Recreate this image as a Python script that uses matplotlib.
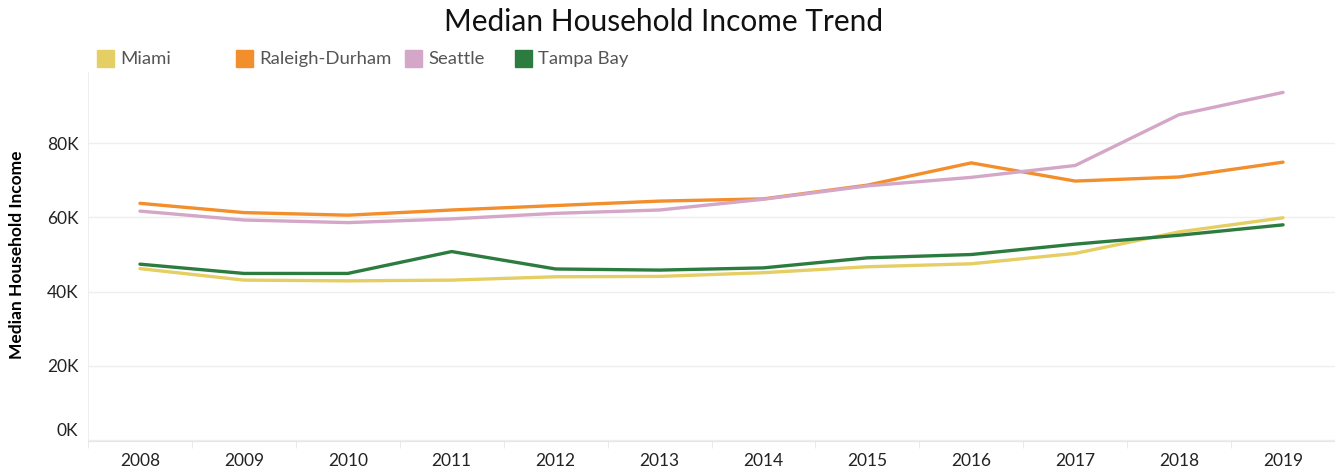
import matplotlib
matplotlib.use("Agg")
import matplotlib.pyplot as plt
from matplotlib.patches import Rectangle
from matplotlib.ticker import FuncFormatter
from matplotlib.transforms import ScaledTranslation

years = ["2008", "2009", "2010", "2011", "2012", "2013", "2014", "2015", "2016", "2017", "2018", "2019"]
miami = [46.2, 43.1, 42.9, 43.1, 44.0, 44.1, 45.1, 46.7, 47.5, 50.3, 56.1, 59.9]
raleigh = [63.8, 61.3, 60.6, 62.0, 63.2, 64.4, 65.0, 68.7, 74.7, 69.8, 70.9, 74.9]
seattle = [61.7, 59.3, 58.6, 59.6, 61.1, 62.0, 64.9, 68.5, 70.8, 74.0, 87.7, 93.7]
tampa = [47.4, 44.9, 44.9, 50.8, 46.1, 45.8, 46.4, 49.1, 50.0, 52.8, 55.2, 58.0]
series_names = ["Miami", "Raleigh-Durham", "Seattle", "Tampa Bay"]
series_values = [miami, raleigh, seattle, tampa]
colors = ["#E5CE63", "#F28E2B", "#D4A6C8", "#2C7B3F"]
yticks = [0, 20, 40, 60, 80]

plt.rcParams['font.family'] = ['Lato', 'DejaVu Sans']

W, H = 1335, 468
fig = plt.figure(figsize=(W / 100, H / 100), dpi=100)
ax = fig.add_axes([88 / W, 1 - 441 / H, (W - 88) / W, (441 - 72) / H])

x = list(range(len(years)))
for name, vals, c in zip(series_names, series_values, colors):
    ax.plot(x, [v * 1000 for v in vals], color=c, lw=2.4, solid_capstyle='round', zorder=3)

ax.set_xlim(-0.5, 11.35)
ax.set_ylim(-270, 99200)
ax.set_yticks([t * 1000 for t in yticks])
ax.yaxis.set_major_formatter(FuncFormatter(lambda v, p: f"{int(round(v / 1000))}K"))
ax.grid(axis='y', color='#EFEFEF', lw=1, zorder=0)
ax.set_xticks(x)
ax.set_xticklabels(years, fontsize=12.5)
ax.set_xticks([i - 0.5 for i in range(len(years) + 1)], minor=True)
ax.tick_params(axis='x', which='major', length=0, pad=9, labelcolor='#222222')
ax.tick_params(axis='x', which='minor', length=5, color='#E6E6E6')
ax.tick_params(axis='y', length=0, labelsize=12.5, pad=7, labelcolor='#222222')
for s in ['top', 'right']:
    ax.spines[s].set_visible(False)
ax.spines['left'].set_color('#EEEEEE')
ax.spines['bottom'].set_color('#E6E6E6')

fig.canvas.draw()
lbl0 = ax.get_yticklabels()[0]
lbl0.set_transform(lbl0.get_transform() + ScaledTranslation(0, 10 / 100, fig.dpi_scale_trans))

ax.set_ylabel("Median Household Income", fontsize=12.5, fontweight='bold')
ax.yaxis.set_label_coords(-63 / (W - 88), (441 - 255) / (441 - 72))

fig.text(664 / W, 1 - 22 / H, "Median Household Income Trend", ha='center', va='center',
         fontsize=21.5, color='#111111')

leg_x = [97, 236, 405, 515]
for name, c, lx in zip(series_names, colors, leg_x):
    fig.patches.append(Rectangle((lx / W, 1 - 67 / H), 17 / W, 17 / H,
                                 transform=fig.transFigure, color=c, figure=fig))
    fig.text((lx + 23) / W, 1 - 59 / H, name, ha='left', va='center',
             fontsize=13.3, color='#555555')

fig.savefig("out.png", dpi=100)
